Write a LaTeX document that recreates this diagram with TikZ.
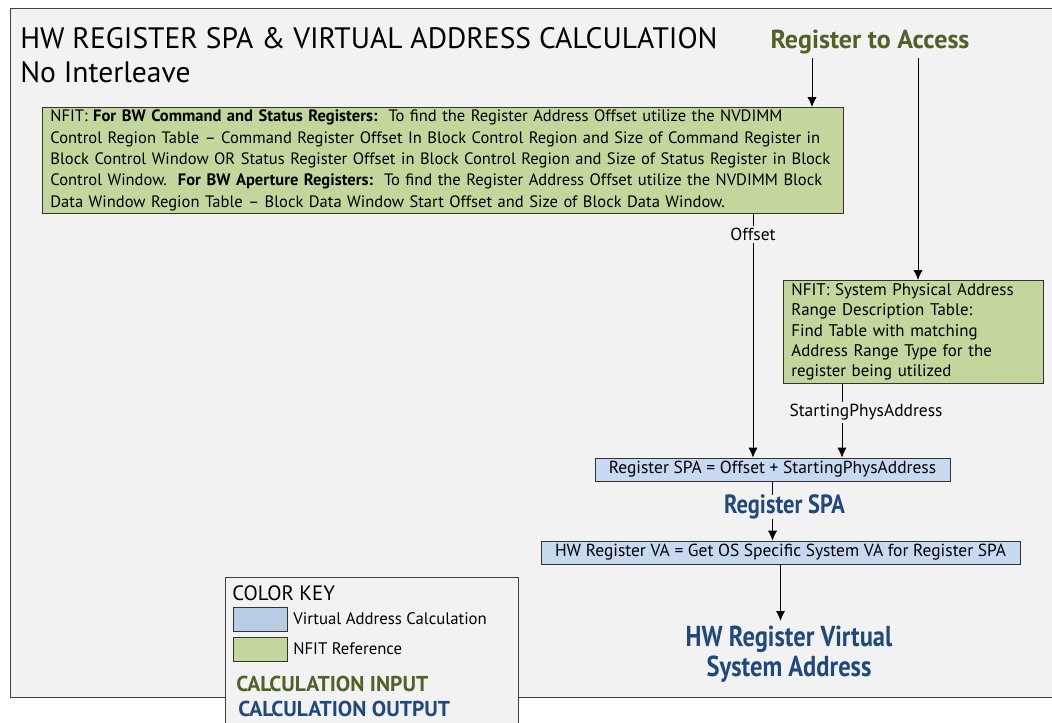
\documentclass[tikz,border=0pt]{standalone}
\usepackage{fontspec}
\setmainfont{PT Sans}
\newfontfamily\narrowfont{PT Sans}[FakeStretch=0.85]
\usetikzlibrary{arrows.meta}
\definecolor{panelgray}{HTML}{F2F2F2}
\definecolor{nfitgreen}{HTML}{C3D69B}
\definecolor{vablue}{HTML}{C6D9F1}
\definecolor{keyblue}{HTML}{B9CDE5}
\definecolor{inputgreen}{HTML}{4F6228}
\definecolor{outputblue}{HTML}{1F497D}
\tikzstyle{nfitbox} = [
	rectangle,
	draw=black!80,
	fill=nfitgreen,
	line width=0.6pt,
	align=left,
	inner xsep=0.2cm,
	inner ysep=1.5pt
]
\tikzstyle{vabox} = [
	rectangle,
	draw=black!80,
	fill=vablue,
	line width=0.6pt,
	minimum height=0.575cm,
	inner sep=0pt,
	font=\fontsize{12.4}{14}\selectfont
]
\tikzstyle{swatch} = [rectangle, draw=black!80, line width=0.5pt, minimum width=1.35cm, minimum height=0.6cm, inner sep=0pt]
\tikzstyle{lbl} = [fill=panelgray, inner sep=1.5pt, font=\fontsize{12.4}{14}\selectfont]
\tikzstyle{arrow} = [line width=0.6pt, -{Latex[length=7pt,width=6.5pt]}]

\begin{document}
\begin{tikzpicture}[x=0.025cm, y=-0.025cm]
            \useasboundingbox (0,0) rectangle (1052,723);
            \clip (0,0) rectangle (1052,723);
            % panel and heading
            \draw [fill=panelgray, draw=black!75, line width=0.6pt] (10,8) rectangle (1070,697);
            \node (title) [anchor=base west, inner sep=0pt, font=\fontsize{21}{26}\selectfont] at (20,48) {HW REGISTER SPA \& VIRTUAL ADDRESS CALCULATION};
            \node (subtitle) [anchor=base west, inner sep=0pt, font=\fontsize{21}{26}\selectfont] at (20,82) {No Interleave};
            \node (access) [anchor=base, text=inputgreen, font=\bfseries\fontsize{18.5}{20}\selectfont] at (870,48) {Register to Access};
            \coordinate (leftx) at (812,0);
            \coordinate (rightx) at (918,0);
            \coordinate (offx) at (753,0);
            \coordinate (physx) at (842,0);
            % NFIT lookups
            \node (nfitbw) [nfitbox, anchor=north west, text width=19.625cm, minimum height=2.65cm,
                font=\fontsize{11.75}{15.2}\selectfont] at (42,107) {NFIT: \textbf{For BW Command and Status Registers:}\ \ To find the Register Address Offset utilize the NVDIMM\\
Control Region Table -- Command Register Offset In Block Control Region and Size of Command Register in\\
Block Control Window OR Status Register Offset in Block Control Region and Size of Status Register in Block\\
Control Window.\ \ \textbf{For BW Aperture Registers:}\ \ To find the Register Address Offset utilize the NVDIMM Block\\
Data Window Region Table -- Block Data Window Start Offset and Size of Block Data Window.};
            \node (nfitspa) [nfitbox, anchor=north west, text width=6.1cm, minimum height=2.575cm,
                font=\fontsize{12}{14.4}\selectfont] at (783,280) {NFIT: System Physical Address\\
Range Description Table:\\
Find Table with matching\\
Address Range Type for the\\
register being utilized};
            % address calculation
            \node (spa) [vabox, minimum width=8.875cm] at (772.5,469.5) {Register SPA = Offset + StartingPhysAddress};
            \node (va) [vabox, minimum width=11.975cm] at (780.5,552.5) {HW Register VA = Get OS Specific System VA for Register SPA};
            \node (result) [text=outputblue, align=center, font=\narrowfont\bfseries\fontsize{20.5}{21.3}\selectfont] at (789,654) {HW Register Virtual\\System Address};
            \draw [arrow] (access.south -| leftx) -- (leftx |- nfitbw.north);
            \draw [arrow] (access.south -| rightx) -- (rightx |- nfitspa.north);
            \draw [arrow] (nfitbw.south -| offx) -- node [lbl, pos=0.086] {Offset} (offx |- spa.north);
            \draw [arrow] (nfitspa.south -| physx) -- node [lbl, pos=0.39, xshift=0.6cm] {StartingPhysAddress} (physx |- spa.north);
            \draw [arrow] (spa.south) -- node [lbl, text=outputblue, pos=0.43, xshift=0.3cm, inner sep=0pt,
                font=\narrowfont\bfseries\fontsize{18.8}{20}\selectfont] {Register SPA} (spa.south |- va.north);
            \draw [arrow] (va.south) -- (va.south |- result.north);
            % color key
            \draw [fill=panelgray, draw=black!75, line width=0.6pt] (225,577) rectangle (518,740);
            \node (keytitle) [anchor=base west, inner sep=0pt, font=\fontsize{14.8}{18}\selectfont] at (232,600) {COLOR KEY};
            \node (keyva) [swatch, fill=keyblue, anchor=north west] at (233,607) {};
            \node (keynfit) [swatch, fill=nfitgreen, anchor=north west] at (233,637) {};
            \node [anchor=west, inner sep=0pt, font=\fontsize{11.9}{13}\selectfont] at (293,619) {Virtual Address Calculation};
            \node [anchor=west, inner sep=0pt, font=\fontsize{11.9}{13}\selectfont] at (293,649) {NFIT Reference};
            \node (keyinput) [anchor=west, inner sep=0pt, text=inputgreen, font=\bfseries\fontsize{15.3}{18}\selectfont] at (236,684) {CALCULATION INPUT};
            \node (keyoutput) [anchor=west, inner sep=0pt, text=outputblue, font=\bfseries\fontsize{15.3}{18}\selectfont] at (238,709) {CALCULATION OUTPUT};
          \end{tikzpicture}
\end{document}
